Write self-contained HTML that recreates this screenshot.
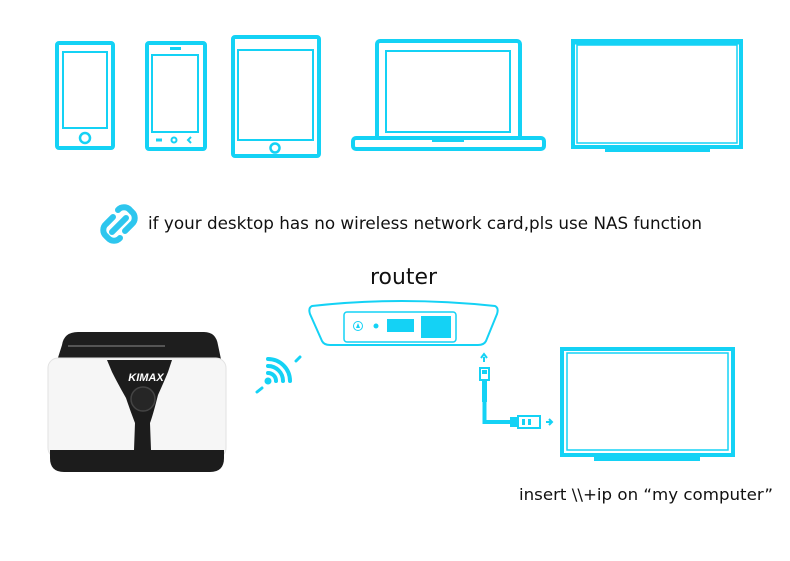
<!DOCTYPE html>
<html><head><meta charset="utf-8"><style>
html,body{margin:0;padding:0;background:#fff;}
svg{display:block}
</style></head><body>
<svg width="790" height="561" viewBox="0 0 790 561" xmlns="http://www.w3.org/2000/svg">
<g fill="none" stroke="#14d2f5">
  <!-- phone 1 -->
  <rect x="57" y="43" width="56" height="105" rx="2" stroke-width="4"/>
  <rect x="63" y="52" width="44" height="76" stroke-width="2"/>
  <circle cx="85" cy="138" r="5" stroke-width="2.5"/>
  <!-- phone 2 -->
  <rect x="147" y="43" width="58" height="106" rx="2" stroke-width="4"/>
  <rect x="152" y="55" width="46" height="77" stroke-width="2"/>
  <line x1="170" y1="48.5" x2="181" y2="48.5" stroke-width="3"/>
  <circle cx="174" cy="140" r="2.5" stroke-width="2"/>
  <line x1="156" y1="140" x2="162" y2="140" stroke-width="3"/>
  <path d="M191 137 L188 140 L191 143" stroke-width="2"/>
  <!-- tablet -->
  <rect x="233" y="37" width="86" height="119" rx="2" stroke-width="4"/>
  <rect x="238" y="50" width="75" height="90" stroke-width="2"/>
  <circle cx="275" cy="148" r="4.5" stroke-width="2.5"/>
  <!-- laptop -->
  <path d="M377 138 V44 a3 3 0 0 1 3 -3 H517 a3 3 0 0 1 3 3 V138" stroke-width="4"/>
  <rect x="386" y="51" width="124" height="81" stroke-width="2"/>
  <rect x="353" y="138" width="191" height="11" rx="3" stroke-width="4"/>
  <path d="M433 138 v3 h30 v-3" stroke-width="2"/>
  <!-- TV -->
  <rect x="573" y="41" width="168" height="106" stroke-width="4"/>
  <rect x="577" y="45" width="160" height="98" stroke-width="1.5"/>
  <line x1="572" y1="42" x2="742" y2="42" stroke-width="5"/>
  <rect x="605" y="149" width="105" height="3" fill="#14d2f5" stroke="none"/>
  <!-- TV 2 -->
  <rect x="562" y="349" width="171" height="106" stroke-width="4"/>
  <rect x="567" y="353" width="161" height="97" stroke-width="1.5"/>
  <rect x="594" y="457" width="106" height="4" fill="#14d2f5" stroke="none"/>
  <!-- router -->
  <path d="M312 306 Q400 296 495 306 Q499 308 497 314 L486 341 Q484 345 478 345 H330 Q324 345 322 341 L310 314 Q308 308 312 306 Z" stroke-width="2"/>
  <rect x="344" y="312" width="112" height="30" rx="3" stroke-width="1.5"/>
  <circle cx="358" cy="326" r="4.5" stroke-width="1"/>
  <path d="M356 328 L358 323 L360 328 Z" fill="#14d2f5" stroke="none"/>
  <circle cx="376" cy="326" r="2.5" fill="#14d2f5" stroke="none"/>
  <rect x="387" y="319" width="27" height="13" fill="#14d2f5" stroke="none"/>
  <rect x="421" y="316" width="30" height="22" fill="#14d2f5" stroke="none"/>
  <!-- cable -->
  <path d="M484 362 v-5 M481 358 l3 -4 l3 4" stroke-width="2"/>
  <rect x="480" y="368" width="9" height="12" stroke-width="2"/>
  <rect x="482" y="370" width="5" height="4" fill="#14d2f5" stroke="none"/>
  <rect x="482" y="380" width="5" height="22" fill="#14d2f5" stroke="none"/>
  <path d="M484.5 400 V422 H512" stroke-width="4"/>
  <rect x="510" y="417" width="8" height="10" fill="#14d2f5" stroke="none"/>
  <rect x="518" y="416" width="22" height="12" stroke-width="2"/>
  <rect x="522" y="419" width="3" height="6" fill="#14d2f5" stroke="none"/>
  <rect x="528" y="419" width="3" height="6" fill="#14d2f5" stroke="none"/>
  <path d="M546 422 h5 M549 419 l3 3 l-3 3" stroke-width="2"/>
  <!-- wifi -->
  <g stroke-width="4" stroke-linecap="round">
    <circle cx="268" cy="381" r="1.5" fill="#14d2f5"/>
    <path d="M268 373 A8 8 0 0 1 276 381"/>
    <path d="M268 366 A15 15 0 0 1 283 381"/>
    <path d="M268 359 A22 22 0 0 1 290 381"/>
  </g>
  <path d="M257 392 l5 -4 M296 361 l4 -4" stroke-width="3" stroke-linecap="round"/>
  <!-- link icon -->
  <g stroke="#2dc6ee" stroke-width="6" stroke-linecap="round">
    <path d="M118 210 a8 8 0 0 1 12 0 l2 2 a8 8 0 0 1 0 12 l-7 7"/>
    <path d="M120 238 a8 8 0 0 1 -12 0 l-2 -2 a8 8 0 0 1 0 -12 l7 -7"/>
    <path d="M112 232 L126 218"/>
  </g>
</g>
<!-- dock -->
<g>
  <path d="M62 345 Q64 332 78 332 H204 Q216 332 218 345 L222 364 H56 Z" fill="#1e1e1e"/>
  <rect x="48" y="358" width="178" height="100" rx="10" fill="#f6f6f6" stroke="#e2e2e2"/>
  <path d="M50 450 H224 V458 Q224 472 210 472 H64 Q50 472 50 458 Z" fill="#1c1c1c"/>
  <path d="M107 360 H172 L168 372 Q163 384 158 395 Q153 415 150 423 L151 450 H134 L135 423 Q130 410 126 398 Q118 384 112 372 Z" fill="#1c1c1c"/>
  <circle cx="143" cy="399" r="12" fill="#262626" stroke="#444" stroke-width="1.5"/>
  <text x="146" y="381" text-anchor="middle" font-family="Liberation Sans, sans-serif" font-weight="bold" font-style="italic" font-size="11" fill="#fff">KIMAX</text>
  <line x1="68" y1="346" x2="165" y2="346" stroke="#555" stroke-width="2"/>
</g>
<g font-family="DejaVu Sans, Liberation Sans, sans-serif" fill="#111">
  <text x="148" y="229" font-size="17" textLength="554" lengthAdjust="spacingAndGlyphs">if your desktop has no wireless network card,pls use NAS function</text>
  <text x="370" y="284" font-size="22" textLength="67" lengthAdjust="spacingAndGlyphs">router</text>
  <text x="519" y="500" font-size="16" textLength="254" lengthAdjust="spacingAndGlyphs">insert \\+ip on “my computer”</text>
</g>
</svg>
</body></html>
